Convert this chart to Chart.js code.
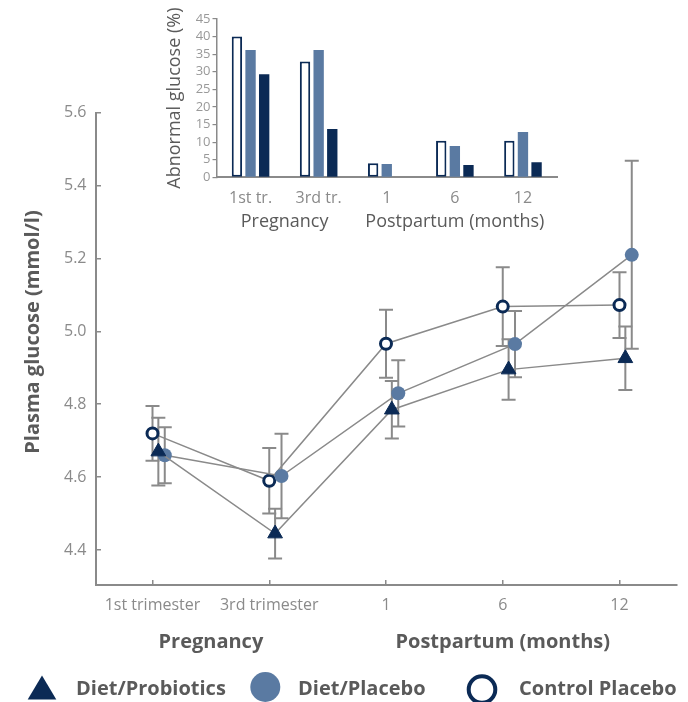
<!DOCTYPE html>
<html>
<head>
<meta charset="utf-8">
<script src="https://cdn.jsdelivr.net/npm/chart.js@4.4.1/dist/chart.umd.min.js"></script>
<style>
  html, body { margin: 0; padding: 0; background: #fff; }
  #wrap { position: relative; width: 688px; height: 702px; overflow: hidden; }
  #mainChart { position: absolute; left: 0; top: 0; }
  #insetChart { position: absolute; left: 150px; top: 0; }
</style>
</head>
<body>
<div id="wrap">
  <canvas id="mainChart" width="688" height="702"></canvas>
  <canvas id="insetChart" width="420" height="240"></canvas>
</div>
<script>
// time points
const timepoints = ['1st trimester', '3rd trimester', '1', '6', '12'];
const insetLabels = ['1st tr.', '3rd tr.', '1', '6', '12'];
const groupNames = ['Pregnancy', 'Postpartum (months)'];
const seriesNames = ['Diet/Probiotics', 'Diet/Placebo', 'Control Placebo'];

// plasma glucose, mean and error (mmol/l)
const probioticsMean = [4.670, 4.445, 4.785, 4.895, 4.926];
const probioticsErr = [0.093, 0.068, 0.079, 0.083, 0.087];
const placeboMean = [4.660, 4.603, 4.830, 4.965, 5.210];
const placeboErr = [0.077, 0.116, 0.091, 0.091, 0.258];
const controlMean = [4.720, 4.590, 4.966, 5.068, 5.072];
const controlErr = [0.075, 0.090, 0.093, 0.108, 0.090];
const glucoseTicks = [4.4, 4.6, 4.8, 5.0, 5.2, 5.4, 5.6];

// abnormal glucose (%)
const abnormalControl = [40, 32.9, 4.0, 10.4, 10.4];
const abnormalPlacebo = [36.2, 36.2, 3.8, 8.9, 12.9];
const abnormalProbiotics = [29.3, 13.7, 0, 3.5, 4.3];
const abnormalTicks = [0, 5, 10, 15, 20, 25, 30, 35, 40, 45];

const NAVY = '#0b2a55';
const STEEL = '#5a7aa2';
const GRAY = '#8a8a8a';
const TEXT = '#5a5a5a';
const FONT = "'Open Sans', sans-serif";

Chart.defaults.font.family = FONT;

function puntos(media, desvio) {
  return media.map((v, i) => ({ x: i + desvio, y: v }));
}

const barrasErro = {
  id: 'barrasErro',
  beforeDatasetsDraw(chart) {
    const { ctx, scales: { x, y } } = chart;
    ctx.save();
    ctx.strokeStyle = GRAY;
    ctx.lineWidth = 2;
    chart.data.datasets.forEach(ds => {
      ds.data.forEach((p, i) => {
        const px = x.getPixelForValue(p.x);
        const top = y.getPixelForValue(p.y + ds.erro[i]);
        const bot = y.getPixelForValue(p.y - ds.erro[i]);
        ctx.beginPath();
        ctx.moveTo(px, top); ctx.lineTo(px, bot);
        ctx.moveTo(px - 7, top); ctx.lineTo(px + 7, top);
        ctx.moveTo(px - 7, bot); ctx.lineTo(px + 7, bot);
        ctx.stroke();
      });
    });
    ctx.restore();
  }
};

const textosPrincipais = {
  id: 'textosPrincipais',
  afterDraw(chart) {
    const { ctx, scales: { x } } = chart;
    ctx.save();
    ctx.fillStyle = TEXT;
    ctx.font = 'bold 20px ' + FONT;
    ctx.textBaseline = 'alphabetic';
    ctx.textAlign = 'center';

    // y title
    ctx.save();
    ctx.translate(39, 332);
    ctx.rotate(-Math.PI / 2);
    ctx.fillText('Plasma glucose (mmol/l)', 0, 0);
    ctx.restore();

    // group titles under the axis
    ctx.fillText(groupNames[0], x.getPixelForValue(0.5), 648);
    ctx.fillText(groupNames[1], x.getPixelForValue(3), 648);

    // legend
    ctx.textAlign = 'left';
    ctx.fillText(seriesNames[0], 76, 695);
    ctx.fillText(seriesNames[1], 298, 695);
    ctx.fillText(seriesNames[2], 519, 695);

    ctx.fillStyle = NAVY;
    ctx.beginPath();
    ctx.moveTo(42, 675.5);
    ctx.lineTo(56.3, 699.5);
    ctx.lineTo(27.7, 699.5);
    ctx.closePath();
    ctx.fill();

    ctx.fillStyle = STEEL;
    ctx.beginPath();
    ctx.arc(265.3, 687, 15, 0, Math.PI * 2);
    ctx.fill();

    ctx.strokeStyle = NAVY;
    ctx.lineWidth = 4;
    ctx.fillStyle = '#fff';
    ctx.beginPath();
    ctx.arc(482, 689.5, 13.3, 0, Math.PI * 2);
    ctx.fill();
    ctx.stroke();
    ctx.restore();
  }
};

new Chart(document.getElementById('mainChart'), {
  type: 'line',
  data: {
    datasets: [
      {
        label: seriesNames[0],
        data: puntos(probioticsMean, 0.05),
        erro: probioticsErr,
        borderColor: GRAY,
        borderWidth: 1.5,
        pointStyle: 'triangle',
        pointRadius: 8.5,
        pointBackgroundColor: NAVY,
        pointBorderColor: NAVY,
        pointBorderWidth: 1
      },
      {
        label: seriesNames[1],
        data: puntos(placeboMean, 0.105),
        erro: placeboErr,
        borderColor: GRAY,
        borderWidth: 1.5,
        pointStyle: 'circle',
        pointRadius: 7,
        pointBackgroundColor: STEEL,
        pointBorderColor: STEEL,
        pointBorderWidth: 0
      },
      {
        label: seriesNames[2],
        data: puntos(controlMean, 0),
        erro: controlErr,
        borderColor: GRAY,
        borderWidth: 1.5,
        pointStyle: 'circle',
        pointRadius: 5.5,
        pointBackgroundColor: '#fff',
        pointBorderColor: NAVY,
        pointBorderWidth: 3
      }
    ]
  },
  options: {
    responsive: false,
    animation: false,
    layout: { padding: { top: 112.7, right: 11, left: 0, bottom: 0 } },
    plugins: { legend: { display: false }, tooltip: { enabled: false } },
    scales: {
      x: {
        type: 'linear',
        min: -0.484,
        max: 4.4925,
        afterBuildTicks: s => { s.ticks = timepoints.map((_, i) => ({ value: i })); },
        afterFit: s => { s.height = 117; },
        grid: { drawOnChartArea: false, drawTicks: true, tickLength: -5, color: GRAY, lineWidth: 1.5 },
        border: { color: GRAY, width: 2 },
        ticks: {
          color: GRAY,
          font: { size: 16 },
          padding: 16,
          autoSkip: false,
          maxRotation: 0,
          callback: v => timepoints[v]
        }
      },
      y: {
        type: 'linear',
        min: 4.304,
        max: 5.6,
        afterBuildTicks: s => { s.ticks = glucoseTicks.map(v => ({ value: v })); },
        afterFit: s => { s.width = 96; },
        grid: { drawOnChartArea: false, drawTicks: true, tickLength: -5, color: GRAY, lineWidth: 1.5 },
        border: { color: GRAY, width: 2 },
        ticks: {
          color: GRAY,
          font: { size: 16 },
          padding: 14.5,
          autoSkip: false,
          callback: v => v.toFixed(1)
        }
      }
    }
  },
  plugins: [barrasErro, textosPrincipais]
});

const textosInset = {
  id: 'textosInset',
  afterDraw(chart) {
    const { ctx, scales: { x } } = chart;
    ctx.save();
    ctx.fillStyle = TEXT;
    ctx.font = '18px ' + FONT;
    ctx.textAlign = 'center';
    ctx.textBaseline = 'alphabetic';
    ctx.fillText(groupNames[0], x.getPixelForValue(0.5), 226.5);
    ctx.fillText(groupNames[1], x.getPixelForValue(3), 226.5);
    ctx.restore();
  }
};

new Chart(document.getElementById('insetChart'), {
  type: 'bar',
  data: {
    labels: insetLabels,
    datasets: [
      { label: seriesNames[2], data: abnormalControl, backgroundColor: '#fff', borderColor: NAVY, borderWidth: 2, borderSkipped: false },
      { label: seriesNames[1], data: abnormalPlacebo, backgroundColor: STEEL, borderWidth: 0 },
      { label: seriesNames[0], data: abnormalProbiotics, backgroundColor: NAVY, borderWidth: 0 }
    ]
  },
  options: {
    responsive: false,
    animation: false,
    categoryPercentage: 0.6,
    barPercentage: 0.76,
    layout: { padding: { top: 19, right: 13, left: 0, bottom: 0 } },
    plugins: { legend: { display: false }, tooltip: { enabled: false } },
    scales: {
      x: {
        afterFit: s => { s.height = 62.7; },
        grid: { display: false },
        border: { color: GRAY, width: 2 },
        ticks: { color: GRAY, font: { size: 16 }, padding: 4, maxRotation: 0, autoSkip: false }
      },
      y: {
        min: 0,
        max: 45,
        afterBuildTicks: s => { s.ticks = abnormalTicks.map(v => ({ value: v })); },
        afterFit: s => { s.width = 66.5; },
        grid: { drawOnChartArea: false, drawTicks: true, tickLength: 4, color: GRAY, lineWidth: 1.2 },
        border: { color: GRAY, width: 1.5 },
        ticks: { color: '#999', font: { size: 13 }, padding: 2, autoSkip: false },
        title: {
          display: true,
          text: 'Abnormal glucose (%)',
          color: TEXT,
          font: { size: 18 },
          padding: { top: 14, bottom: 0 }
        }
      }
    }
  },
  plugins: [textosInset]
});
</script>
</body>
</html>
